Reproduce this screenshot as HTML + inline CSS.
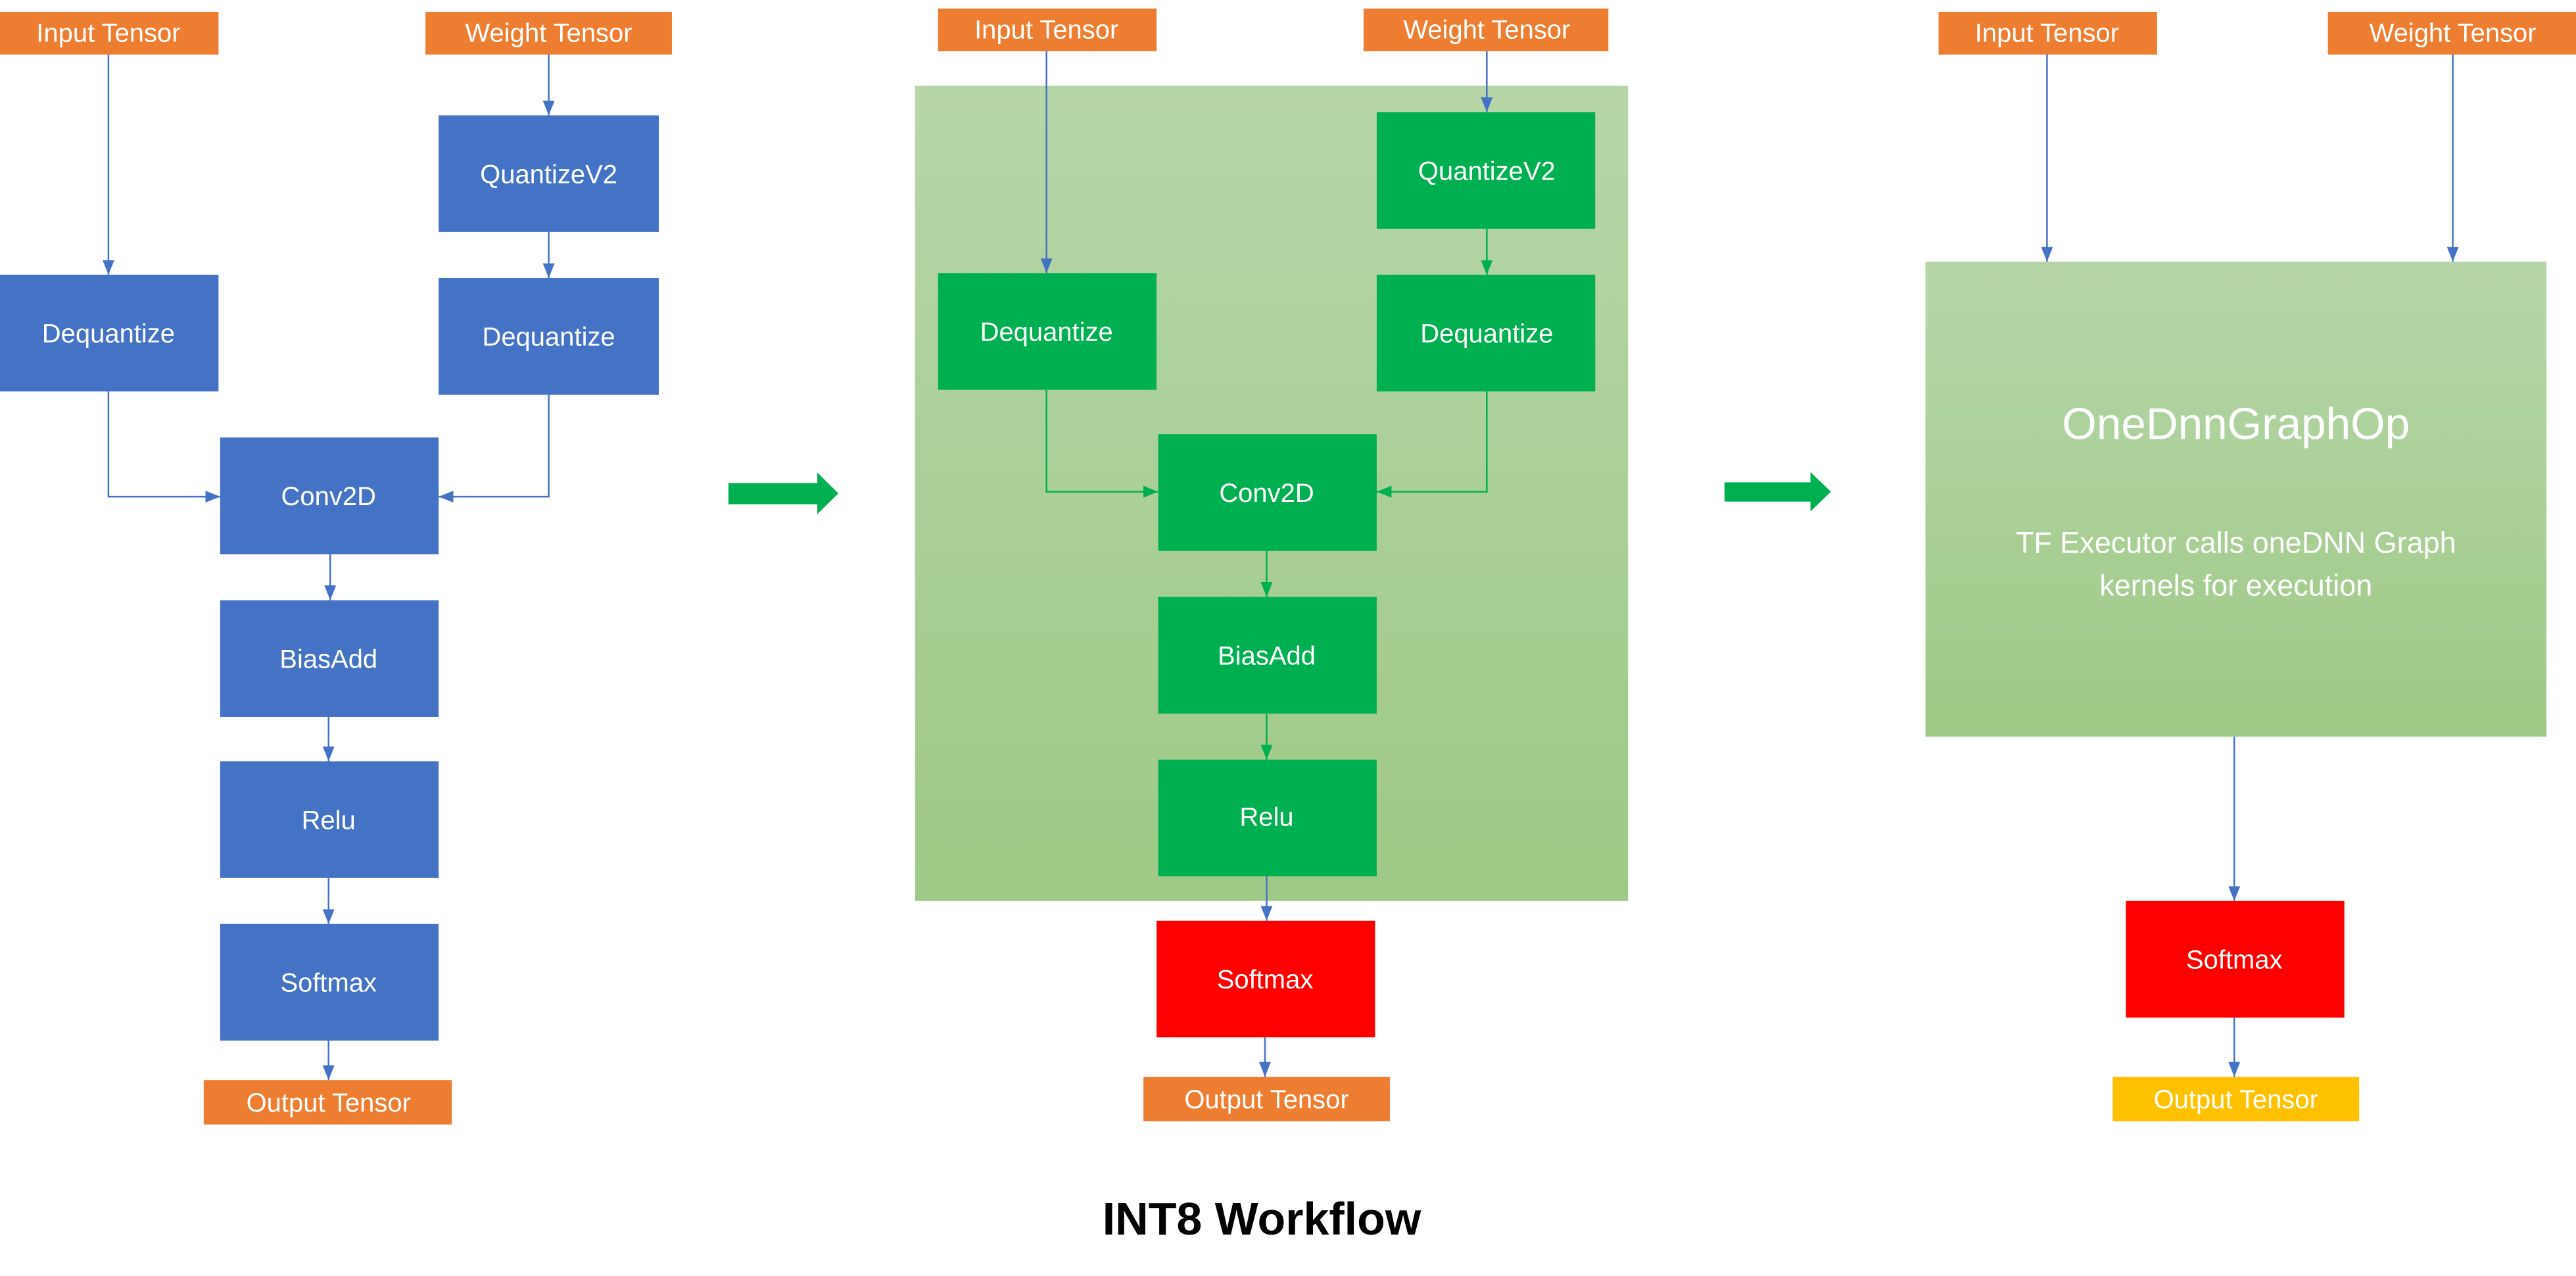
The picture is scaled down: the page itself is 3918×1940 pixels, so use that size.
<!DOCTYPE html>
<html><head><meta charset="utf-8"><style>html,body{margin:0;padding:0;background:#fff}svg{display:block}</style></head>
<body>
<svg width="3918" height="1940" viewBox="0 0 1568 776" xmlns="http://www.w3.org/2000/svg" font-family="Liberation Sans, sans-serif">
<defs>
<linearGradient id="g" x1="0" y1="0" x2="0" y2="1"><stop offset="0" stop-color="#b6d6a8"/><stop offset="1" stop-color="#9ec986"/></linearGradient>
<marker id="ab" viewBox="0 0 10 10" refX="10" refY="5" markerWidth="9" markerHeight="9" markerUnits="userSpaceOnUse" orient="auto"><path d="M0,1L10,5L0,9z" fill="#4472c4"/></marker>
<marker id="ag" viewBox="0 0 10 10" refX="10" refY="5" markerWidth="9" markerHeight="9" markerUnits="userSpaceOnUse" orient="auto"><path d="M0,1L10,5L0,9z" fill="#00b050"/></marker>
</defs>
<style>.t{fill:#fff;font-size:16px;text-anchor:middle;dominant-baseline:central}.b{stroke:#4472c4;stroke-width:1;fill:none;marker-end:url(#ab)}.gr{stroke:#00b050;stroke-width:1;fill:none;marker-end:url(#ag)}</style>

<!-- Panel 1 -->
<rect x="0" y="7" width="133" height="26" fill="#ed7d31"/><text class="t" x="66" y="20">Input Tensor</text>
<rect x="259" y="7" width="150" height="26" fill="#ed7d31"/><text class="t" x="334" y="20">Weight Tensor</text>
<rect x="267" y="70" width="134" height="71" fill="#4472c4"/><text class="t" x="334" y="106">QuantizeV2</text>
<rect x="0" y="167" width="133" height="71" fill="#4472c4"/><text class="t" x="66" y="203">Dequantize</text>
<rect x="267" y="169" width="134" height="71" fill="#4472c4"/><text class="t" x="334" y="205">Dequantize</text>
<rect x="134" y="266" width="133" height="71" fill="#4472c4"/><text class="t" x="200" y="302">Conv2D</text>
<rect x="134" y="365" width="133" height="71" fill="#4472c4"/><text class="t" x="200" y="401">BiasAdd</text>
<rect x="134" y="463" width="133" height="71" fill="#4472c4"/><text class="t" x="200" y="499">Relu</text>
<rect x="134" y="562" width="133" height="71" fill="#4472c4"/><text class="t" x="200" y="598">Softmax</text>
<rect x="124" y="657" width="151" height="27" fill="#ed7d31"/><text class="t" x="200" y="671">Output Tensor</text>
<path class="b" d="M66,33V167"/><path class="b" d="M334,33V70"/><path class="b" d="M334,141V169"/>
<path class="b" d="M66,238V302H134"/><path class="b" d="M334,240V302H267"/>
<path class="b" d="M201,337V365"/><path class="b" d="M200,436V463"/><path class="b" d="M200,534V562"/><path class="b" d="M200,633V657"/>

<path d="M443.4,293.7H497.5V287.3L510.3,300L497.5,312.6V306.6H443.4z" fill="#00b050"/>

<!-- Panel 2 -->
<rect x="557" y="52" width="434" height="496" fill="url(#g)"/>
<rect x="571" y="5" width="133" height="26" fill="#ed7d31"/><text class="t" x="637" y="18">Input Tensor</text>
<rect x="830" y="5" width="149" height="26" fill="#ed7d31"/><text class="t" x="905" y="18">Weight Tensor</text>
<rect x="838" y="68" width="133" height="71" fill="#00b050"/><text class="t" x="905" y="104">QuantizeV2</text>
<rect x="571" y="166" width="133" height="71" fill="#00b050"/><text class="t" x="637" y="202">Dequantize</text>
<rect x="838" y="167" width="133" height="71" fill="#00b050"/><text class="t" x="905" y="203">Dequantize</text>
<rect x="705" y="264" width="133" height="71" fill="#00b050"/><text class="t" x="771" y="300">Conv2D</text>
<rect x="705" y="363" width="133" height="71" fill="#00b050"/><text class="t" x="771" y="399">BiasAdd</text>
<rect x="705" y="462" width="133" height="71" fill="#00b050"/><text class="t" x="771" y="497">Relu</text>
<rect x="704" y="560" width="133" height="71" fill="#ff0000"/><text class="t" x="770" y="596">Softmax</text>
<rect x="696" y="655" width="150" height="27" fill="#ed7d31"/><text class="t" x="771" y="669">Output Tensor</text>
<path class="b" d="M637,31V166"/><path class="b" d="M905,31V68"/><path class="gr" d="M905,139V167"/>
<path class="gr" d="M637,237V299H705"/><path class="gr" d="M905,238V299H838"/>
<path class="gr" d="M771,335V363"/><path class="gr" d="M771,434V462"/>
<path class="b" d="M771,533V560"/><path class="b" d="M770,631V655"/>

<path d="M1049.7,293.3H1102V287L1114.5,299L1102,311V305H1049.7z" fill="#00b050"/>

<!-- Panel 3 -->
<rect x="1180" y="7" width="133" height="26" fill="#ed7d31"/><text class="t" x="1246" y="20">Input Tensor</text>
<rect x="1417" y="7" width="151" height="26" fill="#ed7d31"/><text class="t" x="1493" y="20">Weight Tensor</text>
<rect x="1172" y="159" width="378" height="289" fill="url(#g)"/>
<text class="t" x="1361" y="258" style="font-size:27px">OneDnnGraphOp</text>
<text class="t" x="1361" y="330" style="font-size:18px">TF Executor calls oneDNN Graph</text>
<text class="t" x="1361" y="356" style="font-size:18px">kernels for execution</text>
<rect x="1294" y="548" width="133" height="71" fill="#ff0000"/><text class="t" x="1360" y="584">Softmax</text>
<rect x="1286" y="655" width="150" height="27" fill="#ffc000"/><text class="t" x="1361" y="669">Output Tensor</text>
<path class="b" d="M1246,33V159"/><path class="b" d="M1493,33V159"/>
<path class="b" d="M1360,448V548"/><path class="b" d="M1360,619V655"/>

<text x="768" y="751" text-anchor="middle" font-weight="bold" font-size="28" fill="#000">INT8 Workflow</text>
</svg>
</body></html>
